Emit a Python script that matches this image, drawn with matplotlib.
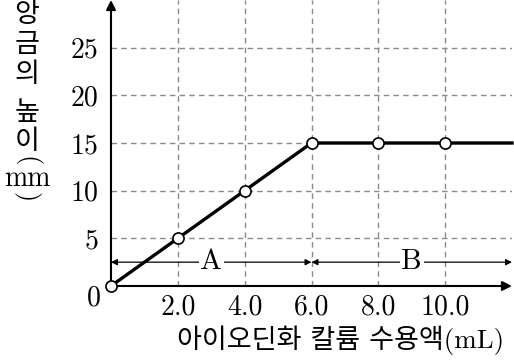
import matplotlib.pyplot as plt

# data
volume = [0, 2.0, 4.0, 6.0, 8.0, 10.0, 12.0]
height = [0, 5, 10, 15, 15, 15, 15]
marked = 6  # first six points carry circle markers
xticks = [2, 4, 6, 8, 10]
xtick_labels = ['2.0', '4.0', '6.0', '8.0', '10.0']
yticks = [5, 10, 15, 20, 25]
regions = [('A', 0, 6), ('B', 6, 12)]
region_y = 2.5
ylabel_chars = ['앙', '금', '의', '높', '이']
ylabel_rows = [15, 45, 74, 113, 141]  # pixel rows from the top

serif = ['cmr10', 'DejaVu Serif']
kr = ['Noto Sans CJK KR', 'DejaVu Sans']
mixed = ['cmr10', 'Noto Sans CJK KR', 'DejaVu Sans']

fig = plt.figure(figsize=(5.14, 3.61), dpi=100)
ax = fig.add_axes([111 / 514, 75 / 361, 401 / 514, 286 / 361])
ax.set_xlim(0, 12)
ax.set_ylim(0, 30)

for s in ax.spines.values():
    s.set_visible(False)

# grid
for x in xticks:
    ax.axvline(x, color='#8a8a8a', lw=1, ls=(0, (4, 3)), zorder=1)
for y in yticks:
    ax.axhline(y, color='#8a8a8a', lw=1, ls=(0, (4, 3)), zorder=1)

# axes arrows
ax.annotate('', xy=(1.0, 0), xytext=(0, 0), xycoords='axes fraction',
            arrowprops=dict(arrowstyle='-|>', color='black', lw=1.5,
                            mutation_scale=14, shrinkA=0, shrinkB=0))
ax.annotate('', xy=(0, 1.0), xytext=(0, 0), xycoords='axes fraction',
            arrowprops=dict(arrowstyle='-|>', color='black', lw=1.5,
                            mutation_scale=14, shrinkA=0, shrinkB=0))

# data line
ax.plot(volume, height, color='black', lw=2.4, zorder=3, clip_on=False)
ax.plot(volume[:marked], height[:marked], 'o', ms=8, mfc='white', mec='black',
        mew=1.2, zorder=4, clip_on=False)

# region arrows A / B
for name, x0, x1 in regions:
    ax.annotate('', xy=(x1, region_y), xytext=(x0, region_y),
                arrowprops=dict(arrowstyle='<|-|>', color='black', lw=0.9,
                                mutation_scale=9, shrinkA=0, shrinkB=0), zorder=2)
    ax.text((x0 + x1) / 2, region_y, name, ha='center', va='center',
            fontsize=21, family=serif, zorder=5,
            bbox=dict(facecolor='white', edgecolor='none', pad=1))

# ticks
ax.set_xticks(xticks)
ax.set_xticklabels(xtick_labels, family=serif, fontsize=20)
ax.set_yticks(yticks)
ax.set_yticklabels([str(v) for v in yticks], family=serif, fontsize=20)
ax.tick_params(axis='y', length=0, pad=9)
ax.tick_params(axis='x', length=0, pad=6)
ax.text(-0.3, -1.3, '0', ha='right', va='center', family=serif, fontsize=20)

# axis labels
ax.text(0.573, -0.19, '아이오딘화 칼륨 수용액(mL)', transform=ax.transAxes,
        ha='center', va='center', fontsize=19.5, family=mixed)

# vertical y label, one upright character per row
for ch, row in zip(ylabel_chars, ylabel_rows):
    fig.text(27 / 514, 1 - row / 361, ch, ha='center', va='center',
             fontsize=19.5, family=kr)
fig.text(27 / 514, 1 - 161 / 361, '(', rotation=-90, ha='center', va='center',
         fontsize=19, family=serif)
fig.text(27 / 514, 1 - 179 / 361, 'mm', ha='center', va='center',
         fontsize=20, family=serif)
fig.text(27 / 514, 1 - 197 / 361, ')', rotation=-90, ha='center', va='center',
         fontsize=19, family=serif)

fig.savefig('out.png', dpi=100)
